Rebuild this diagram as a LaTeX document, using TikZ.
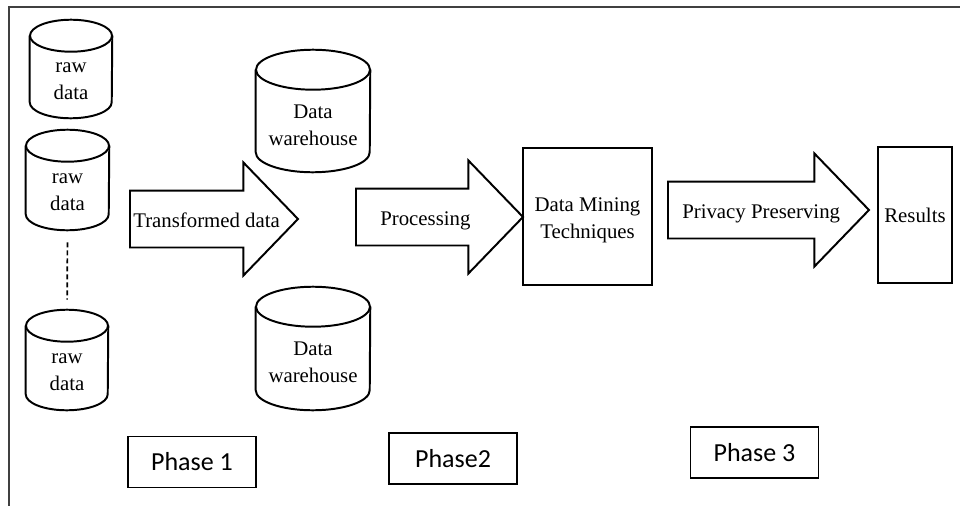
\documentclass[tikz,border=0pt]{standalone}
\usepackage{fontspec}
\setmainfont{Liberation Serif}
\newfontfamily\phasefont{Carlito}
\usepackage{tikz}
\usetikzlibrary{positioning, shapes.arrows}
\definecolor{framegray}{HTML}{404040}
\newlength{\pxu}
\setlength{\pxu}{0.025cm}

\tikzset{
  every node/.style={font=\fontsize{14.8}{19}\selectfont},
  store/.style={inner sep=0pt},
  inside/.style={align=center, yshift=-4\pxu},
  bigarrow/.style={single arrow, draw, line width=1.4pt, inner sep=0pt, anchor=tail,
                   text height=27.5\pxu, text depth=27.5\pxu,
                   single arrow head extend=28\pxu, single arrow tip angle=92},
  arrowtext/.style={inner sep=0pt, text height=14.4\pxu, text depth=0pt, yshift=-1\pxu},
  box/.style={draw, line width=1.4pt, align=center, inner sep=0pt},
  phase/.style={box, font=\phasefont\fontsize{18.5}{22}\selectfont,
                minimum width=128\pxu, minimum height=51\pxu},
}

\begin{document}
\begin{tikzpicture}[x=0.025cm, y=-0.025cm]
    \useasboundingbox (0,0) rectangle (960,506);
    \draw[framegray, line width=1.5pt] (960,7) -- (9,7) -- (9,506);

    % raw data stores (node = body below the top cap's centre)
    \node[store, minimum width=82\pxu, minimum height=82\pxu,
          label={[inside]center:raw\\data}] (raw1) at (71,77) {};
    \node[store, minimum width=83\pxu, minimum height=84\pxu,
          label={[inside]center:raw\\data}] (raw2) at (67.5,188) {};
    \node[store, minimum width=82\pxu, minimum height=84\pxu,
          label={[inside]center:raw\\data}] (raw3) at (67,368) {};

    % warehouses
    \node[store, minimum width=114\pxu, minimum height=102\pxu,
          label={[inside]center:Data\\warehouse}] (dw1) at (313,121) {};
    \node[store, minimum width=114\pxu, minimum height=103\pxu,
          label={[inside]center:Data\\warehouse}] (dw2) at (313,358.5) {};

    % cylinder outlines
    \foreach \n/\rx/\ry in {raw1/41/16, raw2/41.5/16, raw3/41/16, dw1/57/20, dw2/57/20} {
      \draw[line width=1.4pt] (\n.north) ellipse [x radius=\rx\pxu, y radius=\ry\pxu];
      \draw[line width=1.4pt] (\n.north west) -- ([yshift=\ry\pxu]\n.south west)
        arc[start angle=180, end angle=360, x radius=\rx\pxu, y radius=\ry\pxu]
        -- (\n.north east);
    }
    \draw[line width=1.2pt, dash pattern=on 5\pxu off 3\pxu, shorten <=12\pxu, shorten >=26\pxu]
      (raw2.south) -- (raw3.north);

    % block arrows
    \node[bigarrow, minimum height=168\pxu] (trans) at (129,219) {};
    \node[arrowtext, right=4\pxu of trans.tail] (translabel) {Transformed data};
    \node[bigarrow, minimum height=167\pxu] (proc) at (355,217) {};
    \node[arrowtext, right=25\pxu of proc.tail] (proclabel) {Processing};
    \node[bigarrow, minimum height=201\pxu] (priv) at (667,210) {};
    \node[arrowtext, right=15\pxu of priv.tail] (privlabel) {Privacy Preserving};

    % boxes
    \node[box, minimum width=129\pxu, minimum height=137\pxu,
          label={[inside]center:Data Mining\\Techniques}] (mining) at (587.5,216.5) {};
    \node[box, minimum width=74\pxu, minimum height=136\pxu] (results) at (915,215) {Results};

    % phases
    \node[phase] (phase1) at (192,462) {Phase 1};
    \node[phase] (phase2) at (453,458.5) {Phase2};
    \node[phase] (phase3) at (754.5,452.5) {Phase 3};
\end{tikzpicture}
\end{document}
